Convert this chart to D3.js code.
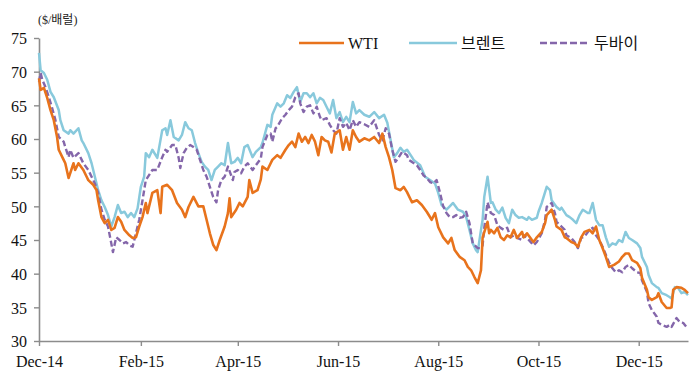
<!DOCTYPE html>
<html>
<head>
<meta charset="utf-8">
<script src="https://cdn.jsdelivr.net/npm/d3@7"></script>
<style>
  body { margin: 0; background: #fff; }
  svg text { font-family: "Liberation Serif", "Noto Sans CJK KR", serif; }
</style>
</head>
<body>
<svg id="chart" width="700" height="378"></svg>
<script>
// tick labels
var yTicks = [30, 35, 40, 45, 50, 55, 60, 65, 70, 75];
var xTicks = ["14-12-01", "15-02-01", "15-04-01", "15-06-01", "15-08-01", "15-10-01", "15-12-01"];

// series names
var seriesNames = ["WTI", "브렌트", "두바이"];

// WTI ($/bbl)
var wti = [
  ["14-12-01",69.0],["14-12-02",67.3],["14-12-04",67.6],["14-12-06",66.1],["14-12-08",64.3],["14-12-10",62.8],
  ["14-12-12",60.3],["14-12-13",58.4],["14-12-16",56.9],["14-12-17",56.4],["14-12-19",54.2],["14-12-22",56.4],
  ["14-12-23",55.4],["14-12-25",56.4],["14-12-28",55.4],["14-12-30",54.4],["14-12-31",53.9],["15-01-03",53.2],
  ["15-01-05",52.4],["15-01-06",50.9],["15-01-08",48.4],["15-01-10",47.5],["15-01-12",48.0],["15-01-14",46.5],
  ["15-01-16",46.8],["15-01-18",48.4],["15-01-20",47.7],["15-01-22",46.5],["15-01-25",45.7],["15-01-27",45.3],
  ["15-01-29",45.4],["15-01-31",47.0],["15-02-02",48.4],["15-02-04",50.5],["15-02-05",49.0],["15-02-08",52.0],
  ["15-02-11",52.4],["15-02-13",49.0],["15-02-14",52.9],["15-02-17",53.2],["15-02-20",52.4],["15-02-23",50.5],
  ["15-02-26",49.5],["15-02-28",48.4],["15-03-02",49.9],["15-03-05",51.4],["15-03-08",50.0],["15-03-11",50.0],
  ["15-03-13",48.0],["15-03-15",46.0],["15-03-17",44.3],["15-03-19",43.5],["15-03-21",45.0],["15-03-24",47.0],
  ["15-03-26",49.0],["15-03-27",51.2],["15-03-28",48.4],["15-03-31",49.5],["15-04-02",50.5],["15-04-04",50.0],
  ["15-04-07",51.4],["15-04-08",53.9],["15-04-10",52.0],["15-04-13",52.4],["15-04-15",54.0],["15-04-16",55.9],
  ["15-04-19",55.4],["15-04-21",56.4],["15-04-22",56.9],["15-04-25",57.6],["15-04-27",57.2],["15-04-30",58.4],
  ["15-05-02",59.1],["15-05-04",59.6],["15-05-06",58.8],["15-05-08",60.8],["15-05-10",59.6],["15-05-12",60.3],
  ["15-05-14",59.4],["15-05-16",60.6],["15-05-18",59.6],["15-05-20",57.6],["15-05-22",60.3],["15-05-24",59.8],
  ["15-05-26",59.6],["15-05-28",58.0],["15-05-30",60.8],["15-06-02",61.3],["15-06-04",58.4],["15-06-06",60.3],
  ["15-06-08",58.4],["15-06-10",61.3],["15-06-12",60.3],["15-06-14",59.6],["15-06-17",60.1],["15-06-20",59.8],
  ["15-06-23",60.3],["15-06-26",59.4],["15-06-28",60.8],["15-06-30",58.8],["15-07-02",57.3],["15-07-04",55.4],
  ["15-07-06",52.7],["15-07-09",52.4],["15-07-11",52.9],["15-07-13",52.1],["15-07-16",50.6],["15-07-19",50.9],
  ["15-07-22",50.2],["15-07-25",49.2],["15-07-28",48.0],["15-07-30",49.0],["15-08-01",46.9],["15-08-04",45.4],
  ["15-08-07",44.5],["15-08-09",45.3],["15-08-11",43.5],["15-08-14",42.5],["15-08-17",42.0],["15-08-19",41.0],
  ["15-08-21",40.5],["15-08-23",39.5],["15-08-25",38.6],["15-08-27",40.5],["15-08-28",45.4],["15-08-31",47.7],
  ["15-09-01",46.0],["15-09-02",46.5],["15-09-04",46.0],["15-09-06",46.8],["15-09-08",45.4],["15-09-10",45.0],
  ["15-09-12",45.7],["15-09-14",45.4],["15-09-16",46.5],["15-09-18",45.3],["15-09-21",46.2],["15-09-22",45.4],
  ["15-09-24",46.0],["15-09-27",45.0],["15-09-28",44.7],["15-09-30",45.4],["15-10-03",46.2],["15-10-05",47.5],
  ["15-10-06",48.7],["15-10-09",49.5],["15-10-11",48.0],["15-10-12",47.0],["15-10-15",46.5],["15-10-17",45.4],
  ["15-10-18",45.3],["15-10-21",44.7],["15-10-23",44.5],["15-10-25",44.0],["15-10-27",45.4],["15-10-29",46.2],
  ["15-11-01",46.5],["15-11-03",46.0],["15-11-05",47.0],["15-11-07",45.0],["15-11-09",43.8],["15-11-11",42.5],
  ["15-11-13",41.0],["15-11-16",41.3],["15-11-19",41.8],["15-11-21",42.5],["15-11-23",43.0],["15-11-25",43.0],
  ["15-11-27",42.0],["15-11-30",41.6],["15-12-02",40.8],["15-12-03",39.4],["15-12-06",37.6],["15-12-07",36.5],
  ["15-12-09",36.1],["15-12-12",36.5],["15-12-13",37.1],["15-12-15",35.8],["15-12-18",34.9],["15-12-20",34.9],
  ["15-12-21",35.0],["15-12-22",37.6],["15-12-24",38.0],["15-12-27",37.9],["15-12-29",37.6],["15-12-31",37.1]
];

// Brent ($/bbl)
var brent = [
  ["14-12-01",72.8],["14-12-02",70.2],["14-12-04",69.8],["14-12-06",68.8],["14-12-08",67.0],["14-12-10",66.2],
  ["14-12-13",64.3],["14-12-14",62.8],["14-12-16",61.3],["14-12-19",60.8],["14-12-20",61.3],["14-12-22",60.8],
  ["14-12-25",61.6],["14-12-27",59.8],["14-12-28",59.4],["14-12-31",57.9],["15-01-02",56.4],["15-01-04",54.4],
  ["15-01-06",52.4],["15-01-08",50.9],["15-01-10",49.9],["15-01-12",48.7],["15-01-14",47.0],["15-01-16",48.4],
  ["15-01-18",50.2],["15-01-20",49.0],["15-01-22",49.2],["15-01-24",48.4],["15-01-26",49.0],["15-01-28",48.4],
  ["15-01-30",49.7],["15-02-01",52.9],["15-02-03",54.4],["15-02-04",57.9],["15-02-06",57.3],["15-02-08",58.4],
  ["15-02-11",57.2],["15-02-14",61.3],["15-02-16",61.6],["15-02-17",60.6],["15-02-19",62.8],["15-02-21",60.3],
  ["15-02-24",59.8],["15-02-26",60.6],["15-02-28",62.5],["15-03-02",61.6],["15-03-04",61.3],["15-03-06",59.4],
  ["15-03-08",57.9],["15-03-10",56.6],["15-03-12",55.9],["15-03-14",55.4],["15-03-16",53.9],["15-03-18",55.4],
  ["15-03-20",55.9],["15-03-22",56.4],["15-03-24",56.1],["15-03-26",59.4],["15-03-28",56.4],["15-03-30",56.6],
  ["15-04-01",57.2],["15-04-03",56.4],["15-04-05",58.8],["15-04-07",59.1],["15-04-10",57.3],["15-04-12",58.1],
  ["15-04-15",58.8],["15-04-16",59.4],["15-04-19",62.1],["15-04-21",61.8],["15-04-22",63.6],["15-04-25",65.3],
  ["15-04-27",64.8],["15-04-29",65.3],["15-05-01",66.5],["15-05-03",66.1],["15-05-05",67.0],["15-05-07",67.7],
  ["15-05-09",65.5],["15-05-11",66.8],["15-05-13",66.8],["15-05-15",66.2],["15-05-17",66.8],["15-05-19",65.3],
  ["15-05-21",66.1],["15-05-23",65.8],["15-05-25",64.8],["15-05-27",63.8],["15-05-29",65.8],["15-05-31",63.1],
  ["15-06-02",64.0],["15-06-04",62.5],["15-06-06",63.3],["15-06-08",62.5],["15-06-10",65.5],["15-06-12",63.8],
  ["15-06-14",64.3],["15-06-17",63.6],["15-06-20",63.3],["15-06-23",64.0],["15-06-26",63.1],["15-06-29",63.6],
  ["15-07-01",62.4],["15-07-03",59.8],["15-07-05",57.3],["15-07-07",57.9],["15-07-09",58.7],["15-07-11",58.1],
  ["15-07-13",58.4],["15-07-16",57.3],["15-07-17",56.9],["15-07-21",56.1],["15-07-24",54.4],["15-07-27",53.9],
  ["15-07-30",53.4],["15-08-01",52.0],["15-08-03",50.2],["15-08-06",49.5],["15-08-08",50.0],["15-08-10",50.5],
  ["15-08-13",49.5],["15-08-16",49.2],["15-08-18",48.4],["15-08-20",46.5],["15-08-22",44.5],["15-08-24",43.5],
  ["15-08-25",43.2],["15-08-27",46.5],["15-08-28",48.0],["15-08-29",51.4],["15-08-31",54.4],["15-09-02",50.5],
  ["15-09-03",50.6],["15-09-05",49.5],["15-09-07",49.0],["15-09-09",49.8],["15-09-11",48.3],["15-09-13",47.5],
  ["15-09-15",49.5],["15-09-17",48.7],["15-09-19",48.3],["15-09-21",48.4],["15-09-24",48.0],["15-09-25",48.4],
  ["15-09-27",48.0],["15-09-30",48.3],["15-10-01",49.2],["15-10-03",50.5],["15-10-06",52.9],["15-10-08",52.4],
  ["15-10-09",50.9],["15-10-12",49.9],["15-10-14",49.5],["15-10-15",49.8],["15-10-18",48.7],["15-10-20",48.4],
  ["15-10-22",48.0],["15-10-24",47.5],["15-10-26",48.7],["15-10-28",49.5],["15-10-31",49.0],["15-11-01",49.0],
  ["15-11-03",50.5],["15-11-05",48.0],["15-11-07",47.2],["15-11-09",47.2],["15-11-11",45.4],["15-11-13",44.0],
  ["15-11-15",44.5],["15-11-17",44.3],["15-11-19",45.0],["15-11-21",44.7],["15-11-23",46.2],["15-11-25",45.3],
  ["15-11-27",45.0],["15-11-30",44.5],["15-12-02",43.8],["15-12-03",42.5],["15-12-06",41.0],["15-12-07",39.8],
  ["15-12-09",38.6],["15-12-12",38.0],["15-12-13",37.9],["15-12-15",37.1],["15-12-18",36.8],["15-12-20",36.5],
  ["15-12-21",36.3],["15-12-23",38.0],["15-12-25",37.9],["15-12-27",37.1],["15-12-29",37.3],["15-12-31",36.8]
];

// Dubai ($/bbl)
var dubai = [
  ["14-12-01",68.5],["14-12-02",69.8],["14-12-03",68.8],["14-12-05",67.7],["14-12-07",66.2],["14-12-09",64.6],
  ["14-12-11",62.8],["14-12-13",60.3],["14-12-16",59.6],["14-12-17",58.8],["14-12-19",57.3],["14-12-20",58.4],
  ["14-12-22",57.2],["14-12-25",57.9],["14-12-27",56.9],["14-12-28",56.4],["14-12-31",55.4],["15-01-02",54.4],
  ["15-01-04",53.4],["15-01-06",52.0],["15-01-08",49.5],["15-01-10",48.0],["15-01-12",47.0],["15-01-14",44.5],
  ["15-01-15",43.2],["15-01-17",45.4],["15-01-19",45.0],["15-01-21",44.5],["15-01-23",44.7],["15-01-25",44.2],
  ["15-01-27",44.0],["15-01-29",46.0],["15-01-31",48.0],["15-02-02",50.9],["15-02-04",53.9],["15-02-08",55.4],
  ["15-02-11",55.4],["15-02-14",57.3],["15-02-16",58.4],["15-02-17",58.1],["15-02-20",59.1],["15-02-22",59.1],
  ["15-02-24",57.2],["15-02-25",55.7],["15-02-27",57.9],["15-03-01",58.7],["15-03-03",59.1],["15-03-05",58.8],
  ["15-03-07",58.4],["15-03-09",56.9],["15-03-11",55.4],["15-03-13",54.4],["15-03-15",52.9],["15-03-17",51.4],
  ["15-03-19",50.6],["15-03-20",52.4],["15-03-22",53.9],["15-03-24",54.4],["15-03-26",55.9],["15-03-29",53.9],
  ["15-03-30",55.1],["15-04-01",55.4],["15-04-03",54.9],["15-04-05",55.9],["15-04-07",56.4],["15-04-10",55.4],
  ["15-04-12",56.1],["15-04-15",57.1],["15-04-16",58.8],["15-04-19",60.6],["15-04-21",60.8],["15-04-22",59.6],
  ["15-04-24",61.6],["15-04-25",61.8],["15-04-28",63.1],["15-04-30",63.6],["15-05-02",64.3],["15-05-04",64.8],
  ["15-05-06",66.2],["15-05-08",66.8],["15-05-09",65.3],["15-05-11",64.0],["15-05-13",64.8],["15-05-15",65.0],
  ["15-05-17",63.8],["15-05-19",64.8],["15-05-21",63.3],["15-05-22",62.8],["15-05-25",63.1],["15-05-27",62.1],
  ["15-05-29",61.3],["15-05-31",60.8],["15-06-02",63.1],["15-06-04",61.8],["15-06-06",62.4],["15-06-08",61.3],
  ["15-06-10",62.8],["15-06-12",61.8],["15-06-14",62.5],["15-06-17",62.2],["15-06-20",61.8],["15-06-23",62.8],
  ["15-06-26",60.6],["15-06-28",59.8],["15-06-30",61.6],["15-07-02",60.8],["15-07-04",58.4],["15-07-06",56.6],
  ["15-07-08",57.3],["15-07-10",58.1],["15-07-13",57.6],["15-07-14",56.9],["15-07-16",56.6],["15-07-19",56.1],
  ["15-07-21",55.4],["15-07-23",54.6],["15-07-25",54.2],["15-07-27",53.6],["15-07-29",53.4],["15-07-31",53.9],
  ["15-08-02",52.1],["15-08-04",50.0],["15-08-06",49.0],["15-08-08",48.4],["15-08-10",48.4],["15-08-12",48.7],
  ["15-08-14",48.3],["15-08-16",48.4],["15-08-18",49.2],["15-08-20",47.5],["15-08-22",44.5],["15-08-25",43.8],
  ["15-08-27",43.8],["15-08-28",44.2],["15-08-29",46.8],["15-08-31",50.6],["15-09-02",49.0],["15-09-04",48.7],
  ["15-09-06",47.2],["15-09-08",46.8],["15-09-10",46.5],["15-09-12",46.8],["15-09-14",45.4],["15-09-16",45.7],
  ["15-09-18",45.3],["15-09-21",45.0],["15-09-22",45.7],["15-09-24",45.3],["15-09-27",44.5],["15-09-28",44.2],
  ["15-09-30",44.7],["15-10-03",46.0],["15-10-05",48.0],["15-10-06",49.9],["15-10-09",50.5],["15-10-11",49.0],
  ["15-10-12",47.7],["15-10-15",47.0],["15-10-17",46.5],["15-10-18",45.7],["15-10-21",45.3],["15-10-23",44.7],
  ["15-10-25",43.8],["15-10-27",45.3],["15-10-29",45.5],["15-11-01",46.5],["15-11-03",46.8],["15-11-05",45.7],
  ["15-11-07",45.0],["15-11-09",44.0],["15-11-11",42.8],["15-11-13",41.6],["15-11-15",40.8],["15-11-17",40.2],
  ["15-11-19",40.5],["15-11-21",40.2],["15-11-23",41.0],["15-11-25",41.3],["15-11-27",40.8],["15-11-30",40.2],
  ["15-12-02",40.1],["15-12-03",39.0],["15-12-06",37.3],["15-12-07",35.6],["15-12-09",34.6],["15-12-12",33.6],
  ["15-12-13",32.7],["15-12-15",32.4],["15-12-18",32.1],["15-12-20",32.4],["15-12-21",32.1],["15-12-24",33.4],
  ["15-12-26",32.8],["15-12-28",32.7],["15-12-30",32.1]
];

var parse = d3.timeParse("%y-%m-%d");
var fmt = d3.timeFormat("%b-%y");

var svg = d3.select("#chart");

var x = d3.scaleTime()
  .domain([parse("14-12-01"), parse("15-12-31")])
  .range([39, 688]);
var y = d3.scaleLinear().domain([30, 75]).range([341, 38]);

var axisColor = "#8c8c8c";

// y axis
var yAxis = svg.append("g")
  .attr("transform", "translate(39,0)")
  .call(d3.axisLeft(y).tickValues(yTicks).tickSize(5).tickSizeOuter(0).tickPadding(7));
// x axis
var xAxis = svg.append("g")
  .attr("transform", "translate(0,341)")
  .call(d3.axisBottom(x).tickValues(xTicks.map(parse)).tickFormat(fmt).tickSize(5).tickSizeOuter(0).tickPadding(10));

[yAxis, xAxis].forEach(function(g) {
  g.select(".domain").attr("stroke", axisColor).attr("stroke-width", 1.6);
  g.selectAll(".tick line").attr("stroke", axisColor).attr("stroke-width", 1.4);
  g.selectAll(".tick text")
    .attr("fill", "#111")
    .style("font-family", "'Liberation Serif', serif")
    .style("font-size", "16px");
});
yAxis.selectAll(".tick text").attr("dy", "0.36em");

// unit label
svg.append("text")
  .attr("x", 38).attr("y", 24)
  .style("font-size", "12px")
  .attr("fill", "#222")
  .text("($/배럴)");

var line = d3.line()
  .x(function(d) { return x(parse(d[0])); })
  .y(function(d) { return y(d[1]); });

var styles = [
  { data: brent, color: "#88c9dc", width: 2.5, dash: null },
  { data: dubai, color: "#8466aa", width: 2.4, dash: "6,3" },
  { data: wti, color: "#e8731c", width: 2.6, dash: null }
];

styles.forEach(function(s) {
  svg.append("path")
    .datum(s.data)
    .attr("fill", "none")
    .attr("stroke", s.color)
    .attr("stroke-width", s.width)
    .attr("stroke-linejoin", "round")
    .attr("stroke-dasharray", s.dash)
    .attr("d", line);
});

// legend
var legend = [
  { name: seriesNames[0], color: "#e8731c", dash: null, x: 299, w: 45 },
  { name: seriesNames[1], color: "#88c9dc", dash: null, x: 409, w: 48 },
  { name: seriesNames[2], color: "#8466aa", dash: "7,3", x: 540, w: 50 }
];
legend.forEach(function(l) {
  svg.append("line")
    .attr("x1", l.x).attr("x2", l.x + l.w)
    .attr("y1", 43).attr("y2", 43)
    .attr("stroke", l.color)
    .attr("stroke-width", 2.5)
    .attr("stroke-dasharray", l.dash);
  svg.append("text")
    .attr("x", l.x + l.w + 4).attr("y", 49)
    .style("font-size", "16px")
    .attr("fill", "#111")
    .text(l.name);
});
</script>
</body>
</html>
